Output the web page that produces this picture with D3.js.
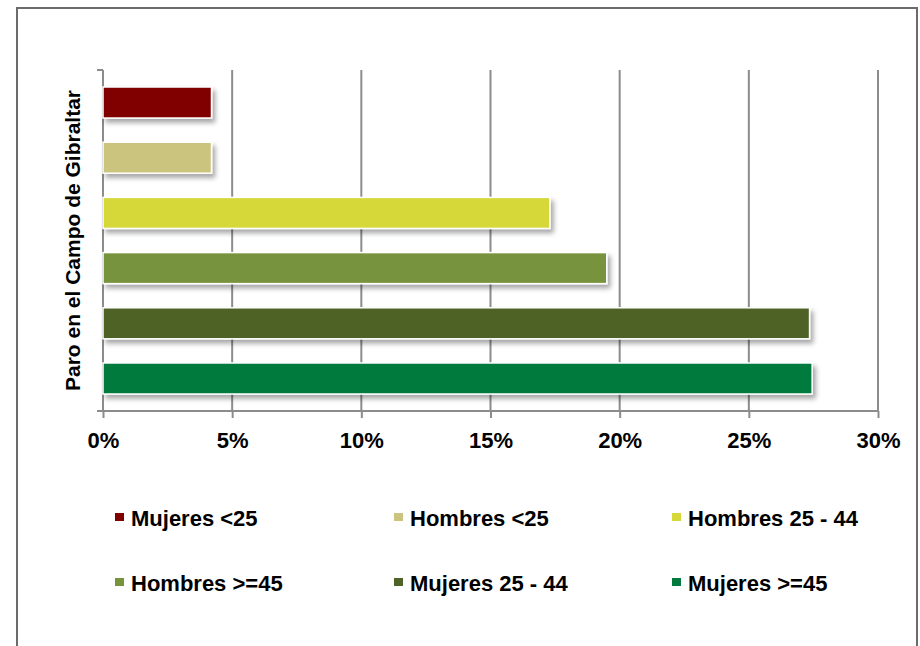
<!DOCTYPE html>
<html><head><meta charset="utf-8">
<script src="https://cdn.jsdelivr.net/npm/d3@7"></script>
<style>
html,body{margin:0;padding:0;background:#fff;}
svg{display:block;}
text{font-family:"Liberation Sans",Arial,sans-serif;font-weight:bold;fill:#000;}
</style></head>
<body>
<svg id="chart" width="920" height="646"></svg>
<script>
const series = ["Mujeres <25","Hombres <25","Hombres 25 - 44","Hombres >=45","Mujeres 25 - 44","Mujeres >=45"];
const values = [4.2, 4.2, 17.3, 19.5, 27.35, 27.45];
const colors = ["#800000","#cbc47e","#d5d838","#77933c","#4f6228","#007a3d"];
const xTicks = [0,5,10,15,20,25,30];
const yTitle = "Paro en el Campo de Gibraltar";

const svg = d3.select("#chart");
const W = 920, H = 646;
const m = {left:103, right:42, top:70, bottom:235};
const pw = W - m.left - m.right, ph = H - m.top - m.bottom;

const defs = svg.append("defs");
const f = defs.append("filter").attr("id","sh").attr("x","-10%").attr("y","-30%").attr("width","130%").attr("height","180%");
f.append("feDropShadow").attr("dx",3).attr("dy",4).attr("stdDeviation",2.5).attr("flood-color","#000").attr("flood-opacity",0.35);

// outer frame
svg.append("rect").attr("x",17).attr("y",8).attr("width",900).attr("height",660)
  .attr("fill","#fff").attr("stroke","#6b6b6b").attr("stroke-width",2);

const g = svg.append("g").attr("transform",`translate(${m.left},${m.top})`);
const x = d3.scaleLinear().domain([0,30]).range([0,pw]);
const y = d3.scaleBand().domain(series).range([0,ph]).paddingInner(0.438).paddingOuter(0.308);

// gridlines
g.selectAll("line.grid").data(xTicks.slice(1)).join("line").attr("class","grid")
  .attr("x1",d=>x(d)).attr("x2",d=>x(d)).attr("y1",0).attr("y2",ph)
  .attr("stroke","#8c8c8c").attr("stroke-width",2);

// y axis line
g.append("line").attr("x1",0).attr("x2",0).attr("y1",0).attr("y2",ph+1).attr("stroke","#8c8c8c").attr("stroke-width",2);
g.append("line").attr("x1",-6).attr("x2",0).attr("y1",0).attr("y2",0).attr("stroke","#8c8c8c").attr("stroke-width",2);

// bars
g.selectAll("rect.bar").data(series).join("rect").attr("class","bar")
  .attr("x",0).attr("y",d=>y(d)).attr("width",(d,i)=>x(values[i])).attr("height",y.bandwidth())
  .attr("fill",(d,i)=>colors[i]).attr("stroke","#fff").attr("stroke-width",1.5)
  .attr("filter","url(#sh)");

// x axis
const xa = g.append("g").attr("transform",`translate(0,${ph})`)
  .call(d3.axisBottom(x).tickValues(xTicks).tickFormat(d=>d+"%").tickSize(7).tickPadding(14.7));
xa.select(".domain").attr("stroke","#8c8c8c").attr("stroke-width",2).attr("d",`M-6,0H${pw}`);
xa.selectAll(".tick line").attr("stroke","#8c8c8c").attr("stroke-width",2);
xa.selectAll(".tick text").attr("font-size",22).attr("font-family",null);

// y title
svg.append("text").attr("transform",`translate(80,${m.top+ph/2}) rotate(-90)`)
  .attr("text-anchor","middle").attr("font-size",21).text(yTitle);

// legend
const cols = [115, 394, 672], rows = [518, 583];
const lg = svg.append("g").selectAll("g").data(series).join("g")
  .attr("transform",(d,i)=>`translate(${cols[i%3]},${rows[Math.floor(i/3)]})`);
lg.append("rect").attr("x",0).attr("y",-5).attr("width",9).attr("height",8).attr("fill",(d,i)=>colors[i]);
lg.append("text").attr("x",16).attr("dy","0.35em").attr("font-size",22).text(d=>d);
</script>
</body></html>
